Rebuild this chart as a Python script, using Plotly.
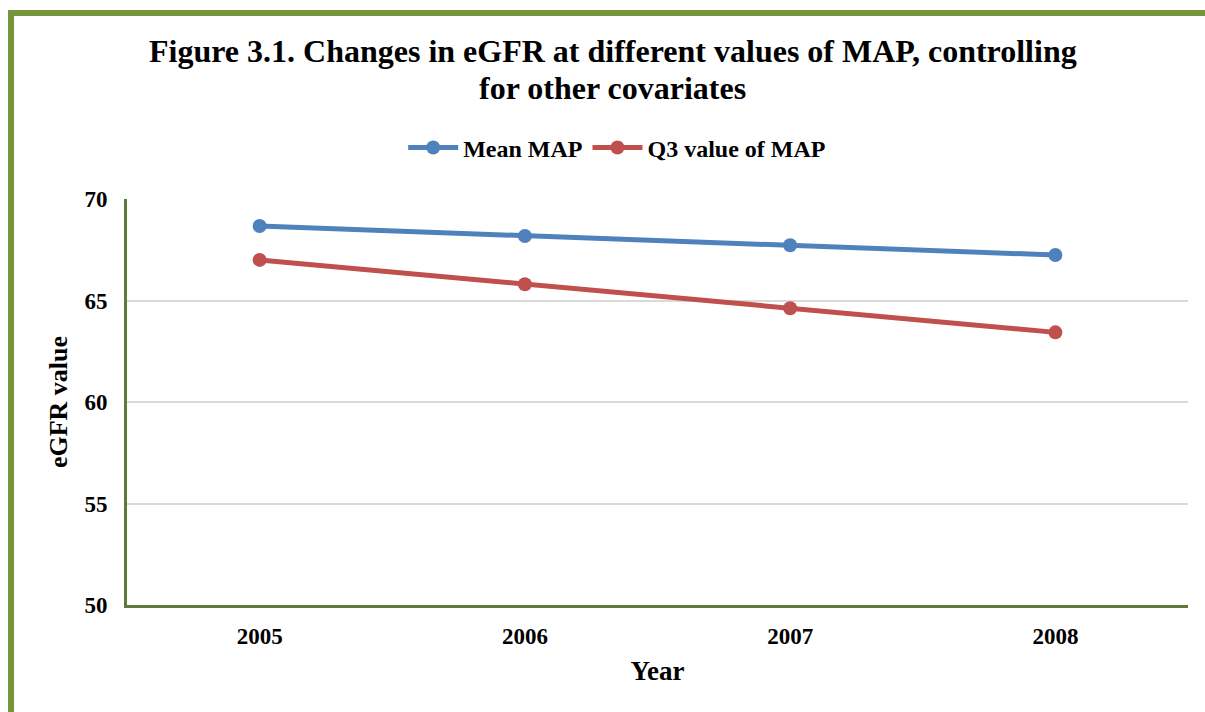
import plotly.graph_objects as go

years = ["2005", "2006", "2007", "2008"]
mean_map = [68.67, 68.18, 67.72, 67.24]
q3_map = [67.0, 65.8, 64.62, 63.43]

title_lines = [
    "Figure 3.1. Changes in eGFR at different values of MAP, controlling",
    "for other covariates",
]

FONT = "Liberation Serif"

fig = go.Figure()
fig.add_trace(go.Scatter(
    x=years, y=mean_map, name="Mean MAP", mode="lines+markers",
    line=dict(color="#4F81BD", width=5), marker=dict(size=14, color="#4F81BD"),
))
fig.add_trace(go.Scatter(
    x=years, y=q3_map, name="Q3 value of MAP", mode="lines+markers",
    line=dict(color="#C0504D", width=5), marker=dict(size=14, color="#C0504D"),
))

# outer green frame (only left and top edges visible in the crop)
fig.add_shape(type="rect", xref="paper", yref="paper",
              x0=-0.1093, x1=1.2, y0=-0.6, y1=1.458,
              line=dict(color="#77933C", width=6), layer="below")

# title as two annotations to get the tight line spacing
for txt, yy in zip(title_lines, [1.364, 1.2734]):
    fig.add_annotation(text="<b>%s</b>" % txt, xref="paper", yref="paper",
                       x=0.458, y=yy, xanchor="center", yanchor="middle",
                       showarrow=False, font=dict(family=FONT, size=32))

fig.update_layout(
    width=1205, height=712,
    margin=dict(l=127, r=17, t=199, b=107),
    paper_bgcolor="white", plot_bgcolor="white",
    font=dict(family=FONT, color="black", size=20),
    legend=dict(orientation="h", x=0.462, xanchor="center", y=1.126, yanchor="middle",
                font=dict(family=FONT, size=24, weight="bold"), itemwidth=50),
    showlegend=True,
)
fig.update_xaxes(
    type="category", range=[-0.5, 3.5], showgrid=False,
    showline=True, linecolor="#5E7A3A", linewidth=3,
    tickfont=dict(family=FONT, size=23, weight="bold"), ticklabelstandoff=8,
    title=dict(text="<b>Year</b>", font=dict(family=FONT, size=27), standoff=14),
)
fig.update_yaxes(
    range=[50, 70], dtick=5, showgrid=True, gridcolor="#D9D9D9", gridwidth=2,
    showline=True, linecolor="#5E7A3A", linewidth=3, zeroline=False,
    tickfont=dict(family=FONT, size=23, weight="bold"), ticklabelstandoff=12,
    title=dict(text="<b>eGFR value</b>", font=dict(family=FONT, size=26), standoff=10),
)

fig.write_html("out.html", config={"displayModeBar": False},
               post_script="document.body.style.margin='0';")
